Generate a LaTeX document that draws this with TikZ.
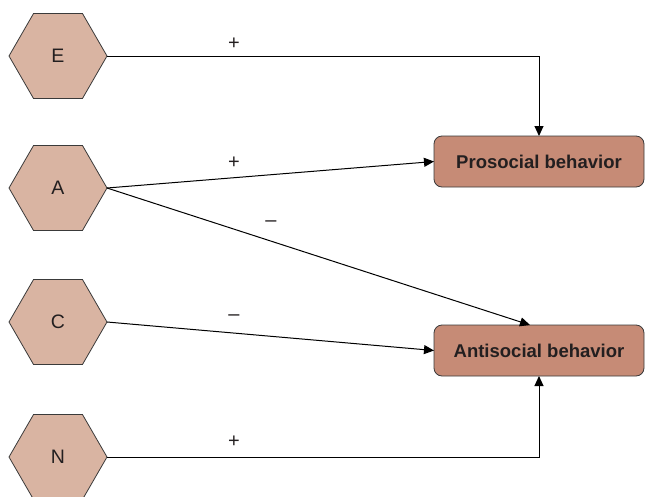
\documentclass[tikz,border=0pt]{standalone}
\usepackage{fontspec}
\setmainfont{Liberation Sans}
\usetikzlibrary{shapes.geometric,arrows.meta,calc}
\definecolor{hexfill}{HTML}{D9B4A2}
\definecolor{boxfill}{HTML}{C68B76}
\definecolor{edgegray}{HTML}{3A3A3A}
\definecolor{inkgray}{HTML}{231F20}
\begin{document}
\begin{tikzpicture}[x=1pt,y=-1pt,
  trait/.style={regular polygon,regular polygon sides=6,minimum size=98pt,
    inner sep=0pt,outer sep=0pt,fill=hexfill,draw=edgegray,line width=0.8pt,
    text=inkgray,font=\fontsize{19.5}{22}\selectfont},
  outcome/.style={rectangle,rounded corners=8pt,minimum width=210pt,minimum height=51pt,
    inner sep=0pt,outer sep=0pt,fill=boxfill,draw=edgegray,line width=0.8pt,
    text=inkgray,font=\fontsize{18.5}{21}\selectfont\bfseries},
  link/.style={draw=black,line width=1.0pt,-{Triangle[length=10pt,width=9pt]}},
  sign/.style={inner sep=0pt,text=inkgray,font=\fontsize{20}{22}\selectfont}]
  \useasboundingbox (0,0) rectangle (646,496);

  % personality traits
  \node[trait] (E) at (58,56) {E};
  \node[trait] (A) at (58,188) {A};
  \node[trait] (C) at (58,322) {C};
  \node[trait] (N) at (58,457) {N};

  % behaviour outcomes
  \node[outcome] (P) at (539,161.5) {Prosocial behavior};
  \node[outcome] (X) at (539,350.5) {Antisocial behavior};

  % paths
  \coordinate (Xin) at ($(X.north)+(-9,0)$);
  \draw[link] (E.east) -| (P.north);
  \draw[link] (A.east) -- (P.west);
  \draw[link] (A.east) -- (Xin);
  \draw[link] (C.east) -- (X.west);
  \draw[link] (N.east) -| (X.south);

  % signs of the effects
  \node[sign] (sE) at (234,44) {+};
  \node[sign] (sAP) at (234,163) {+};
  \node[sign] (sAX) at (271,224) {\textendash};
  \node[sign] (sC) at (234,318) {\textendash};
  \node[sign] (sN) at (234,442) {+};
\end{tikzpicture}
\end{document}
